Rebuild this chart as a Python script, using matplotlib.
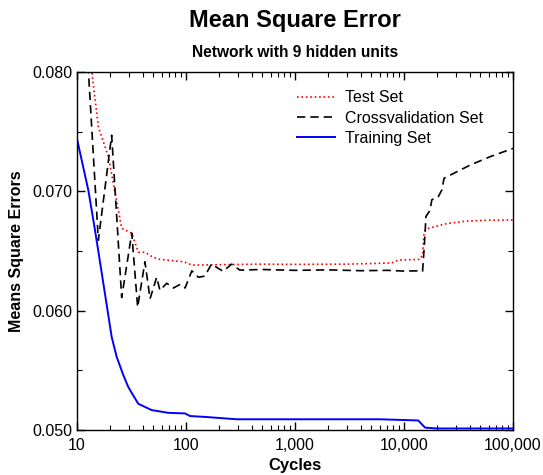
import matplotlib
matplotlib.use("Agg")
import matplotlib.pyplot as plt
from matplotlib.ticker import FuncFormatter, MultipleLocator, LogLocator, NullFormatter

plt.rcParams['font.family'] = ['Liberation Sans', 'DejaVu Sans']

# Test set error (red, dotted)
test_cycles = [10, 13.6, 15.7, 19.4, 25.7, 31.8, 36.5, 42, 50, 57.7, 94.5, 114, 200, 477,
               1000, 3000, 7700, 8870, 14000, 14800, 15300, 16700, 24600, 37600, 60000, 100000]
test_mse = [0.0870, 0.0802, 0.0754, 0.0729, 0.0669, 0.0665, 0.0649, 0.0649, 0.06447, 0.0643,
            0.0641, 0.06382, 0.06385, 0.0639, 0.06388, 0.06390, 0.0640, 0.06424, 0.0643,
            0.0647, 0.0666, 0.0669, 0.0673, 0.06751, 0.06758, 0.0676]

# Crossvalidation set error (black, dashed)
cv_cycles = [10, 12.7, 15.7, 20.8, 25.7, 31.8, 36.0, 42, 46.8, 53.8, 57.7, 66.5, 76.4, 88.4,
             98.1, 113, 130, 149, 171, 219, 262, 312, 500, 1000, 2000, 4000, 7000, 10000,
             14200, 14800, 15400, 15900, 17300, 18000, 20600, 22200, 23300, 30500, 40400,
             61500, 100000]
cv_mse = [0.0880, 0.0802, 0.0659, 0.0747, 0.0611, 0.0665, 0.0603, 0.0641, 0.0610, 0.0628,
          0.0617, 0.0623, 0.0619, 0.0622, 0.0619, 0.06334, 0.0628, 0.0629, 0.0639, 0.0633,
          0.0639, 0.0634, 0.06345, 0.06338, 0.06342, 0.06335, 0.06338, 0.06332, 0.06334,
          0.0633, 0.06564, 0.0679, 0.0684, 0.0693, 0.06955, 0.0701, 0.0711, 0.07164, 0.0722,
          0.0729, 0.0736]

# Training set error (blue, solid)
train_cycles = [10, 12.7, 14.6, 16.9, 20.8, 23.1, 26.6, 29.5, 31.8, 36.5, 48.4, 68.9, 98, 109,
                149, 292, 1000, 6030, 13500, 15600, 20000, 100000]
train_mse = [0.0744, 0.0701, 0.0668, 0.0631, 0.0578, 0.05614, 0.0546, 0.05362, 0.0531, 0.0522,
             0.05167, 0.05144, 0.05139, 0.05117, 0.0511, 0.0509, 0.0509, 0.0509, 0.0508, 0.0502,
             0.05013, 0.05013]

fig = plt.figure(figsize=(5.43, 4.75), dpi=100)
ax = fig.add_axes([0.1418, 0.0947, 0.803, 0.7537])

ax.plot(test_cycles, test_mse, color='red', linestyle=':', linewidth=1.2, label='Test Set')
ax.plot(cv_cycles, cv_mse, color='black', linestyle=(0, (5, 3)), linewidth=1.2,
        label='Crossvalidation Set')
ax.plot(train_cycles, train_mse, color='blue', linestyle='-', linewidth=1.4, label='Training Set')

ax.set_xscale('log')
ax.set_xlim(10, 100000)
ax.set_ylim(0.050, 0.080)

ax.xaxis.set_major_locator(LogLocator(base=10))
ax.xaxis.set_minor_locator(LogLocator(base=10, subs=range(2, 10)))
ax.xaxis.set_minor_formatter(NullFormatter())
ax.xaxis.set_major_formatter(FuncFormatter(lambda v, p: f"{int(round(v)):,}"))
ax.yaxis.set_major_locator(MultipleLocator(0.010))
ax.yaxis.set_minor_locator(MultipleLocator(0.005))
ax.yaxis.set_major_formatter(FuncFormatter(lambda v, p: f"{v:.3f}"))

ax.tick_params(which='both', direction='in', top=True, right=True, labelsize=11.5)
ax.tick_params(which='major', length=6, width=1)
ax.tick_params(which='minor', length=3.5, width=0.8)
ax.tick_params(axis='x', pad=6)
for s in ax.spines.values():
    s.set_linewidth(1.0)

ax.set_xlabel('Cycles', fontsize=12, fontweight='bold', labelpad=3)
ax.set_ylabel('Means Square Errors', fontsize=11.5, fontweight='bold', labelpad=6)

# titles are centred over the plot area
xc = 0.1418 + 0.803 / 2
fig.text(xc, 0.943, 'Mean Square Error', ha='center', va='baseline', fontsize=17,
         fontweight='bold')
fig.text(xc, 0.880, 'Network with 9 hidden units', ha='center', va='baseline', fontsize=11.2,
         fontweight='bold')

ax.legend(loc='upper left', bbox_to_anchor=(0.5046, 0.949), frameon=False, fontsize=11.5,
          handlelength=2.4, handletextpad=0.6, labelspacing=0.33, borderpad=0, borderaxespad=0)

fig.savefig('out.png', dpi=100)
